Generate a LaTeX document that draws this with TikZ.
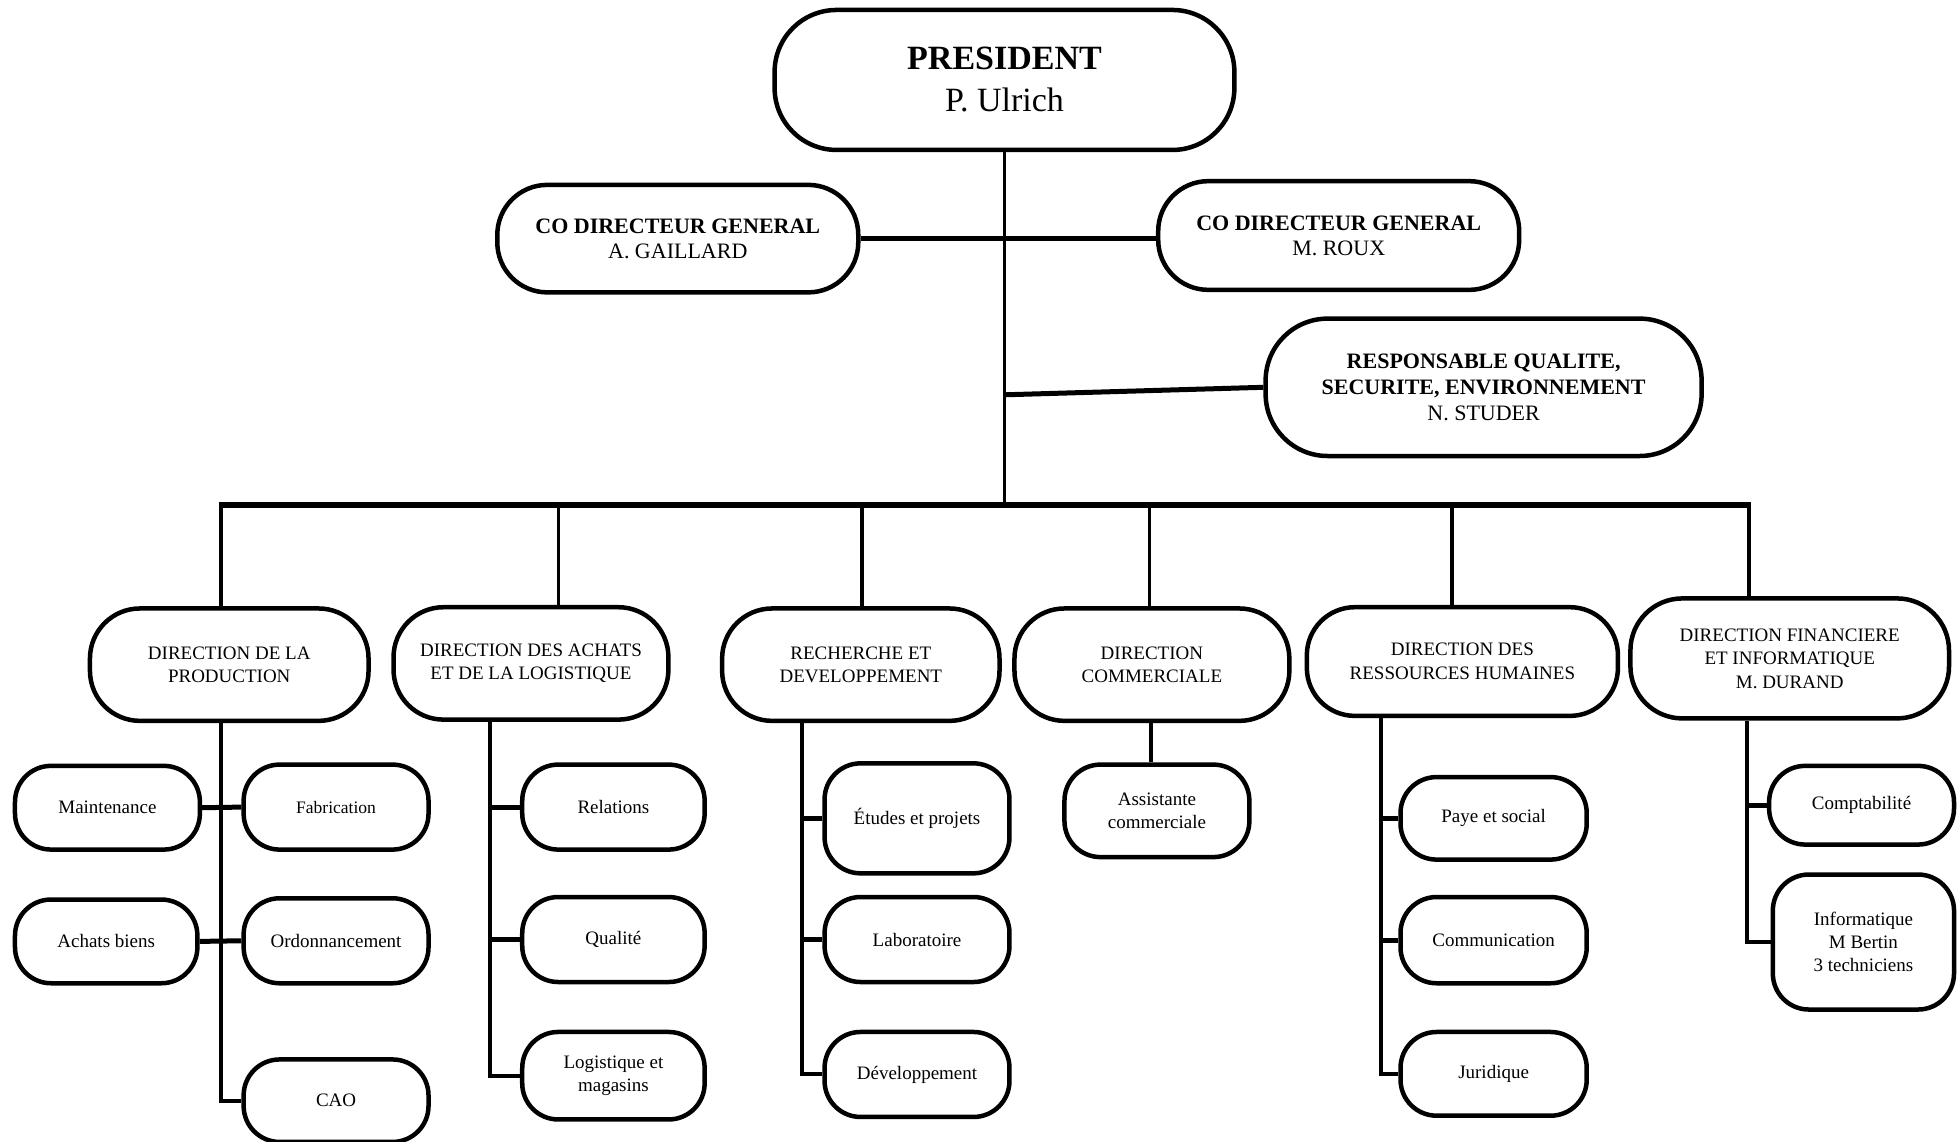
\documentclass[tikz,border=0pt]{standalone}
\usepackage{fontspec}
\setmainfont{Liberation Serif}
\newcommand{\fsz}[2]{\fontsize{#1}{#2}\selectfont}
\begin{document}
\begin{tikzpicture}[x=1.2494pt,y=-1.2494pt,
  box/.style={draw,line width=4.5pt,align=center,inner sep=0pt,rounded corners=#1},
  box/.default=36pt,
  thin/.style={line width=2.5pt},
  bus/.style={line width=6pt},
  drop/.style={line width=3.5pt},
  spine/.style={line width=4pt},
  stub/.style={line width=5pt},
  dirtext/.style={font=\fsz{19pt}{23.5pt}},
  subtext/.style={font=\fsz{19pt}{23pt}}]
\useasboundingbox (0,0) rectangle (1568,914);
% top level
\node[box=62pt,minimum width=459.8pt,minimum height=140pt,font=\fsz{34pt}{42pt}] (pres) at (804,64) {\textbf{PRESIDENT}\\P. Ulrich};
\node[box=50pt,minimum width=361pt,minimum height=107.5pt,font=\fsz{22pt}{25pt}] (col) at (542.5,191) {\textbf{CO DIRECTEUR GENERAL}\\A. GAILLARD};
\node[box=50pt,minimum width=361pt,minimum height=108.7pt,font=\fsz{22pt}{25pt}] (cor) at (1071.5,188.5) {\textbf{CO DIRECTEUR GENERAL}\\M. ROUX};
\node[box=62pt,minimum width=436pt,minimum height=137.4pt,font=\fsz{22pt}{25.6pt}] (resp) at (1187.5,310) {\textbf{RESPONSABLE QUALITE,}\\\textbf{SECURITE, ENVIRONNEMENT}\\N. STUDER};
% directions
\node[box=50pt,dirtext,minimum width=278.6pt,minimum height=112.4pt] (d1) at (183.5,532) {DIRECTION DE LA\\PRODUCTION};
\node[box=50pt,dirtext,minimum width=274.9pt,minimum height=112.4pt] (d2) at (425,531) {DIRECTION DES ACHATS\\ET DE LA LOGISTIQUE};
\node[box=50pt,dirtext,minimum width=277.4pt,minimum height=112.4pt] (d3) at (689,532) {RECHERCHE ET\\DEVELOPPEMENT};
\node[box=50pt,dirtext,minimum width=274.9pt,minimum height=112.4pt] (d4) at (922,532) {DIRECTION\\COMMERCIALE};
\node[box=48pt,dirtext,minimum width=311.1pt,minimum height=108.7pt] (d5) at (1170.5,529.5) {DIRECTION DES\\RESSOURCES HUMAINES};
\node[box=52pt,dirtext,minimum width=318.6pt,minimum height=120pt] (d6) at (1432.5,527) {DIRECTION FINANCIERE\\ET INFORMATIQUE\\M. DURAND};
% sub boxes
\node[box,subtext,minimum width=184.9pt,minimum height=83.7pt] (maint) at (86,646.5) {Maintenance};
\node[box,subtext,minimum width=184.9pt,minimum height=85pt,font=\fsz{17.5pt}{21pt}] (fab) at (269,646) {Fabrication};
\node[box,subtext,minimum width=182.4pt,minimum height=83.7pt] (achb) at (85,753.5) {Achats biens};
\node[box,subtext,minimum width=184.9pt,minimum height=85pt] (ord) at (269,753) {Ordonnancement};
\node[box,subtext,minimum width=184.9pt,minimum height=82.5pt] (cao) at (269,881) {CAO};
\node[box,subtext,minimum width=182.4pt,minimum height=85pt] (rel) at (491,646) {Relations};
\node[box,subtext,minimum width=182.4pt,minimum height=85pt] (qual) at (491,752) {Qualité};
\node[box,subtext,minimum width=182.4pt,minimum height=87.5pt] (logi) at (491,861) {Logistique et\\magasins};
\node[box,subtext,minimum width=184.9pt,minimum height=110pt] (etu) at (734,655) {Études et projets};
\node[box,subtext,minimum width=184.9pt,minimum height=85pt] (labo) at (734,752) {Laboratoire};
\node[box,subtext,minimum width=184.9pt,minimum height=85pt] (dev) at (734,860) {Développement};
\node[box,subtext,minimum width=184.9pt,minimum height=92.5pt] (ass) at (926,649) {Assistante\\commerciale};
\node[box,subtext,minimum width=186.2pt,minimum height=82.5pt] (paye) at (1195.5,655) {Paye et social};
\node[box,subtext,minimum width=186.2pt,minimum height=86.2pt] (comm) at (1195.5,752.5) {Communication};
\node[box,subtext,minimum width=186.2pt,minimum height=83.7pt] (jur) at (1195.5,859.5) {Juridique};
\node[box,subtext,minimum width=184.9pt,minimum height=78.7pt] (compta) at (1490,644.5) {Comptabilité};
\node[box,subtext,minimum width=181.2pt,minimum height=135pt] (info) at (1491.5,754) {Informatique\\M Bertin\\3 techniciens};
% coordinates
\coordinate (busM) at (804,404);
\coordinate (busL) at (177,404);
\coordinate (busR) at (1400,404);
\coordinate (rs) at (804,316);
\coordinate (t1) at (177,404);
\coordinate (t2) at (447,404);
\coordinate (t3) at (690,404);
\coordinate (t4) at (920,404);
\coordinate (t5) at (1162,404);
\coordinate (t6) at (1400,404);
\coordinate (s1) at (177,0);
\coordinate (s2) at (392,0);
\coordinate (s3) at (642,0);
\coordinate (s4) at (921,0);
\coordinate (s5) at (1105,0);
\coordinate (s6) at (1398,0);
% top connectors
\draw[thin] (pres.south) -- (busM);
\draw[stub] (col.east) -- (col.east -| cor.west);
\draw[stub] (rs) -- (resp.west);
\draw[bus] ([xshift=-2pt]busL) -- ([xshift=2pt]busR);
\foreach \t/\d in {t1/d1,t2/d2,t3/d3,t4/d4,t5/d5,t6/d6}
  \draw[drop] (\t) -- (\t |- \d.north);
% production
\draw[spine] (d1.south -| s1) -- (cao.west -| s1) -- (cao.west);
\draw[stub] (maint.east) -- (fab.west);
\draw[stub] (achb.east) -- (ord.west);
% achats
\draw[spine] (d2.south -| s2) -- (logi.west -| s2) -- (logi.west);
\draw[stub] (rel.west -| s2) -- (rel.west);
\draw[stub] (qual.west -| s2) -- (qual.west);
% R&D
\draw[spine] (d3.south -| s3) -- (dev.west -| s3) -- (dev.west);
\draw[stub] (etu.west -| s3) -- (etu.west);
\draw[stub] (labo.west -| s3) -- (labo.west);
% commerciale
\draw[spine] (d4.south -| s4) -- (ass.north -| s4);
% RH
\draw[spine] (d5.south -| s5) -- (jur.west -| s5) -- (jur.west);
\draw[stub] (paye.west -| s5) -- (paye.west);
\draw[stub] (comm.west -| s5) -- (comm.west);
% finance
\draw[spine] (d6.south -| s6) -- (info.west -| s6) -- (info.west);
\draw[stub] (compta.west -| s6) -- (compta.west);
\end{tikzpicture}
\end{document}
